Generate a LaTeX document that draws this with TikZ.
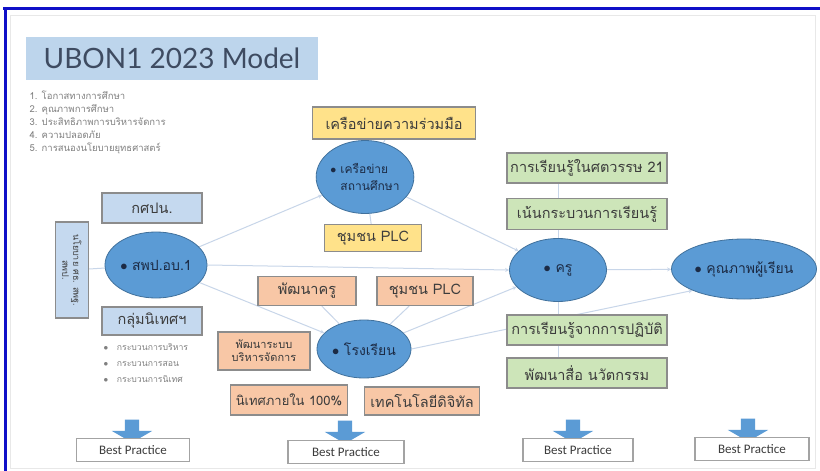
\documentclass[tikz,border=0pt]{standalone}
\usepackage{fontspec}
\setmainfont{Loma}[Script=Thai]
\newfontfamily\titlefont{Lato}
\newfontfamily\bpfont{Carlito}
\usetikzlibrary{arrows.meta,shapes.geometric,shapes.arrows,backgrounds}

\definecolor{ellfill}{HTML}{5B9BD5}
\definecolor{elldraw}{HTML}{41719C}
\definecolor{ellink}{HTML}{1C2B45}
\definecolor{titlefill}{HTML}{BDD5EC}
\definecolor{bluefill}{HTML}{C5D9EF}
\definecolor{yellowfill}{HTML}{FFE28A}
\definecolor{orangefill}{HTML}{F8C7A6}
\definecolor{greenfill}{HTML}{CDE5B9}
\definecolor{boxline}{HTML}{8C8C8C}
\definecolor{boxink}{HTML}{3C3C3C}
\definecolor{linkline}{HTML}{C8D6E9}
\definecolor{frameblue}{HTML}{1010C8}

\begin{document}
\begin{tikzpicture}[x=1pt,y=-1pt,
  ell/.style={draw=elldraw, fill=ellfill, ellipse, inner sep=0pt, line width=0.8pt, text=ellink, font=\fontsize{14}{17}\selectfont},
  bbox/.style={draw=boxline, line width=1.1pt, text=boxink, inner sep=2pt, font=\fontsize{14.5}{16}\selectfont},
  bluebox/.style={bbox, fill=bluefill},
  yellowbox/.style={bbox, fill=yellowfill},
  orangebox/.style={bbox, fill=orangefill},
  greenbox/.style={bbox, fill=greenfill},
  bpbox/.style={bbox, fill=white, draw=boxline!80, font=\bpfont\fontsize{13}{14}\selectfont, minimum height=23},
  bparrow/.style={single arrow, fill=ellfill, rotate=-90, inner xsep=0pt, inner ysep=7pt, minimum height=23, single arrow head extend=13, single arrow tip angle=120},
  link/.style={draw=linkline, line width=1pt},
  linkarrow/.style={link, -{Stealth[length=4pt,width=4pt]}}
]
\useasboundingbox (0,0) rectangle (820,471);

% title and goals
\node[fill=titlefill, minimum width=292, minimum height=43, font=\titlefont\fontsize{28}{30}\selectfont, text=ellink!85] (title) at (172,58) {UBON1 2023 Model};
\node[anchor=north west, align=left, text=gray, font=\fontsize{9.5}{13}\selectfont] (goals) at (26,87)
  {1. โอกาสทางการศึกษา\\2. คุณภาพการศึกษา\\3. ประสิทธิภาพการบริหารจัดการ\\4. ความปลอดภัย\\5. การสนองนโยบายยุทธศาสตร์};

% left side
\node[bluebox, minimum width=33, minimum height=96] (policy) at (72,270) {};
\node[rotate=-90, align=center, text=boxink, font=\fontsize{9}{11}\selectfont] (policytext) at (72,270) {นโยบาย ศธ. สพฐ.\\สพป.};
\node[bluebox, minimum width=100, minimum height=30] (kspn) at (152,208) {กศปน.};
\node[ell, minimum width=102, minimum height=66] (office) at (156,265) {$\bullet$\ สพป.อบ.1};
\node[bluebox, minimum width=100, minimum height=28] (super) at (152,321) {กลุ่มนิเทศฯ};
\node[anchor=north west, align=left, text=gray, font=\fontsize{8.7}{16}\selectfont] (superlist) at (100,340)
  {$\bullet$\quad กระบวนการบริหาร\\$\bullet$\quad กระบวนการสอน\\$\bullet$\quad กระบวนการนิเทศ};

% network
\node[yellowbox, minimum width=163, minimum height=32] (coop) at (394,123) {เครือข่ายความร่วมมือ};
\node[ell, minimum width=96, minimum height=73, align=left, font=\fontsize{12}{17}\selectfont] (net) at (365,177) {$\bullet$\ เครือข่าย\\\phantom{$\bullet$\ }สถานศึกษา};
\node[yellowbox, minimum width=97, minimum height=27] (plc1) at (373,238) {ชุมชน PLC};

% school
\node[orangebox, minimum width=98, minimum height=29] (dev) at (307,291) {พัฒนาครู};
\node[orangebox, minimum width=96, minimum height=29] (plc2) at (425,291) {ชุมชน PLC};
\node[orangebox, minimum width=92, minimum height=38, align=center, font=\fontsize{11}{13}\selectfont] (mgmt) at (264,351) {พัฒนาระบบ\\บริหารจัดการ};
\node[ell, minimum width=94, minimum height=58] (school) at (364,349) {$\bullet$\ โรงเรียน};
\node[orangebox, minimum width=117, minimum height=30, font=\fontsize{13}{15}\selectfont] (inner) at (289,400) {นิเทศภายใน 100\%};
\node[orangebox, minimum width=115, minimum height=28] (digi) at (422,401) {เทคโนโลยีดิจิทัล};

% teacher
\node[greenbox, minimum width=160, minimum height=30] (c21) at (587,168) {การเรียนรู้ในศตวรรษ 21};
\node[greenbox, minimum width=160, minimum height=31] (proc) at (587,214) {เน้นกระบวนการเรียนรู้};
\node[ell, minimum width=97, minimum height=63] (teach) at (558,270) {$\bullet$\ ครู};
\node[greenbox, minimum width=160, minimum height=30] (prac) at (587,330) {การเรียนรู้จากการปฏิบัติ};
\node[greenbox, minimum width=160, minimum height=30] (media) at (587,373) {พัฒนาสื่อ นวัตกรรม};

% learner
\node[ell, minimum width=145, minimum height=60] (learn) at (744,269) {$\bullet$\ คุณภาพผู้เรียน};

% best practice
\node[bparrow] (a1) at (132,429) {};
\node[bparrow] (a2) at (345,430) {};
\node[bparrow] (a3) at (573,429) {};
\node[bparrow] (a4) at (748,428) {};
\node[bpbox, minimum width=113] (bp1) at (133,450) {Best Practice};
\node[bpbox, minimum width=116] (bp2) at (346,452) {Best Practice};
\node[bpbox, minimum width=110] (bp3) at (578,450) {Best Practice};
\node[bpbox, minimum width=114] (bp4) at (752,449) {Best Practice};

\begin{scope}[on background layer]
\fill[white] (0,0) rectangle (820,471);
% slide frame
\draw[gray!18, line width=1pt] (10,15) rectangle (815,468);
\draw[frameblue, line width=3.5pt] (3,8.5) -- (820,8.5);
\draw[frameblue, line width=3.5pt] (5.5,7) -- (5.5,471);
% connectors
\path[link] (policy) -- (office);
\path[linkarrow] (office) -- (net);
\path[linkarrow] (office.east) -- (teach.west);
\path[linkarrow] (office) -- (school);
\path[linkarrow] (net) -- (teach);
\path[linkarrow] (school) -- (teach);
\path[linkarrow] (school.east) -- (learn.south west);
\path[linkarrow] (teach) -- (learn);
\path[link] (coop) -- (net);
\path[link] (plc1) -- (net);
\path[link] (dev) -- (school);
\path[link] (plc2) -- (school);
\path[link] (c21.south -| teach.north) -- (proc.north -| teach.north);
\path[link] (proc.south -| teach.north) -- (teach.north);
\path[link] (teach.south) -- (prac.north -| teach.south);
\path[link] (prac.south -| teach.south) -- (media.north -| teach.south);
\end{scope}
\end{tikzpicture}
\end{document}
